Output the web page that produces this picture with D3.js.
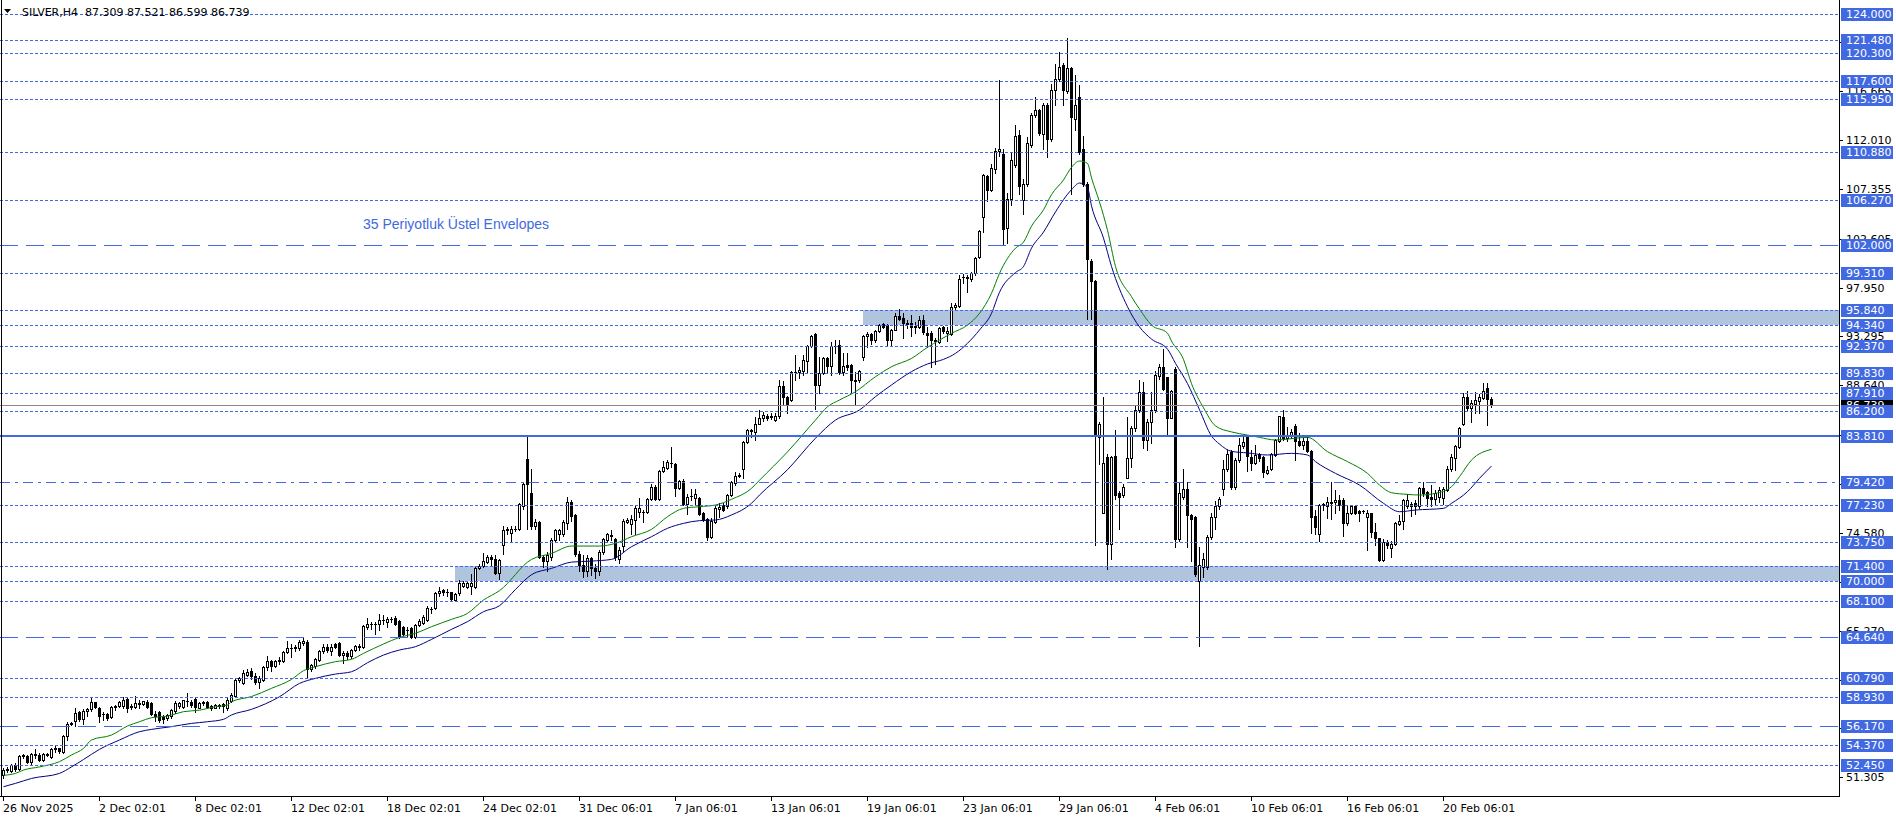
<!DOCTYPE html>
<html><head><meta charset="utf-8">
<script src="https://cdn.jsdelivr.net/npm/d3@7/dist/d3.min.js"></script>
<style>
html,body{margin:0;padding:0;background:#fff;}
svg{display:block;}
text{font-family:"DejaVu Sans",sans-serif;}
</style></head>
<body>
<svg id="chart" width="1896" height="820"></svg>
<script>
// ---------------- DATA ----------------
const title = "SILVER,H4  87.309 87.521 86.599 86.739";
const opens = [51.5,52.0,51.9,52.5,52.1,53.3,53.3,52.8,53.5,53.4,53.0,53.5,53.2,54.0,54.05,53.7,55.2,56.4,56.7,57.5,56.9,57.6,57.8,58.45,57.9,57.3,57.3,57.05,58.0,58.1,58.1,58.75,58.0,58.0,58.4,58.3,58.45,58.4,57.3,57.5,57.05,56.95,57.1,57.65,58.1,58.0,58.6,58.5,58.8,57.95,58.35,58.5,58.1,57.95,58.2,58.3,57.9,58.6,59.05,60.55,60.3,61.05,
61.4,61.0,60.4,60.6,61.8,62.4,61.9,62.4,62.4,63.2,63.6,63.7,63.6,64.1,64.2,61.6,61.9,62.5,63.3,63.7,63.3,64.0,64.1,63.0,63.1,62.9,63.4,63.75,63.7,65.6,65.95,65.9,65.9,66.25,66.1,66.35,66.45,66.2,65.6,65.3,65.5,64.7,65.8,66.0,66.3,67.3,67.4,68.9,69.1,69.0,69.0,68.2,68.9,69.5,69.4,69.5,69.4,71.2,71.45,71.8,72.3,72.1,
70.8,73.4,74.85,74.6,74.95,75.0,77.1,81.6,78.4,75.2,75.6,72.3,71.9,72.3,73.9,74.5,74.5,75.55,77.5,76.3,72.6,71.5,71.0,72.2,71.2,71.0,72.8,73.9,74.3,74.0,72.1,73.3,75.6,75.4,75.8,76.6,76.55,76.6,77.8,79.0,77.8,80.5,80.8,81.25,81.1,78.9,79.5,77.3,78.1,77.9,77.9,76.5,75.9,74.2,75.6,76.9,77.2,77.1,78.2,79.3,80.0,80.7,83.2,84.3,84.2,85.0,
85.5,85.7,85.6,85.3,85.7,88.57,87.5,87.2,89.9,89.9,90.0,91.0,92.4,93.5,88.7,89.8,91.2,90.5,92.4,92.5,89.9,90.6,90.6,89.1,89.1,91.3,93.3,93.55,93.0,93.8,94.45,94.4,93.0,93.9,95.25,95.05,94.6,94.6,94.3,94.2,94.85,93.65,93.6,92.9,92.8,94.15,93.6,93.5,96.1,96.2,99.0,99.0,98.8,99.3,100.9,104.7,108.6,107.2,109.2,111.0,
110.7,103.6,106.4,109.6,112.45,106.3,107.85,111.5,114.4,114.85,112.6,115.3,112.1,116.8,117.85,119.1,116.7,118.9,114.0,116.1,111.1,107.85,100.5,98.6,83.7,76.5,81.8,73.5,81.9,78.4,78.2,79.85,81.7,84.6,86.3,88.0,83.4,85.15,86.3,89.5,90.35,89.4,85.5,90.15,74.0,78.0,78.8,76.3,76.1,69.96,71.3,71.3,74.2,76.1,77.1,78.8,80.7,82.3,79.0,81.5,82.85,83.7,
81.8,81.2,82.1,81.8,80.3,80.7,82.0,83.3,85.6,83.6,83.9,84.75,83.3,83.0,83.3,82.4,76.2,74.5,77.2,77.1,77.4,77.5,77.7,77.7,75.5,76.5,77.1,76.7,76.65,76.1,76.45,74.7,74.05,72.0,73.75,73.1,73.5,75.4,75.7,77.1,77.35,77.4,77.1,78.9,78.45,78.0,77.8,78.0,77.95,78.7,80.7,81.7,82.8,85.0,87.55,86.45,86.9,87.1,87.4,88.35,87.309];
const highs = [52.2,52.3,52.6,52.7,53.4,53.5,53.4,53.6,54.0,53.6,53.6,53.6,54.1,54.3,54.1,55.3,56.6,56.6,57.9,57.6,57.8,57.9,58.9,58.5,58.0,57.55,57.4,58.1,58.2,58.6,59.0,59.0,58.3,59.05,58.7,58.6,58.7,58.5,57.6,57.65,57.2,57.3,57.8,58.6,58.5,58.7,59.3,58.7,59.0,58.5,58.6,58.6,58.2,58.25,58.3,58.35,58.9,59.3,60.7,60.9,61.5,61.6,
61.7,61.2,61.0,61.9,62.9,62.5,62.5,62.8,63.3,64.3,64.0,63.9,64.4,64.7,64.4,62.1,62.7,63.4,64.0,64.0,64.0,64.1,64.2,63.3,63.3,63.5,63.9,64.0,65.8,66.5,66.1,66.1,66.9,66.8,66.6,66.6,66.7,66.3,65.7,65.6,65.6,65.9,66.4,66.75,67.6,67.55,69.0,69.45,69.2,69.2,69.0,68.9,70.1,70.0,69.9,70.7,71.3,71.6,72.7,72.5,72.45,72.5,
72.1,75.2,75.1,75.2,75.2,77.4,79.4,83.85,80.7,75.9,75.7,72.5,72.8,74.1,75.0,75.0,75.8,78.0,77.7,76.4,72.9,72.5,72.5,72.3,71.6,73.0,74.1,74.6,74.9,74.1,73.2,75.9,76.0,76.3,77.1,77.9,76.8,77.9,79.2,79.1,80.6,81.4,81.5,82.8,81.2,79.6,79.7,78.3,78.8,78.8,78.0,76.6,76.0,76.0,77.1,77.4,77.4,78.3,79.5,80.4,80.3,83.3,84.5,84.5,85.6,86.3,
86.1,85.9,86.0,86.0,89.15,89.05,87.6,90.0,91.5,90.4,91.5,92.5,93.4,93.6,91.3,91.3,91.3,92.8,92.95,93.0,91.7,91.7,90.7,89.9,90.1,93.4,93.75,93.65,93.9,94.5,94.6,94.5,94.0,95.55,95.9,95.5,94.85,95.3,94.7,95.25,95.3,94.2,93.8,93.1,94.2,94.3,94.2,96.5,96.5,99.1,99.2,99.1,99.4,100.9,103.4,108.8,108.7,109.7,111.2,117.7,
111.1,107.0,110.9,113.4,113.0,108.25,112.3,114.6,116.1,115.0,115.55,115.55,117.3,119.2,120.35,119.3,121.7,119.0,118.2,117.2,112.35,108.0,100.7,98.7,85.1,87.5,82.1,81.9,84.4,78.6,79.2,85.6,84.8,86.7,89.1,89.0,85.4,88.0,89.96,90.7,92.1,89.4,88.2,90.35,79.4,80.7,79.4,76.4,76.2,73.2,72.65,74.4,76.5,77.65,78.0,81.5,82.5,82.5,81.7,83.6,83.7,83.8,
82.5,82.95,82.2,81.9,81.0,82.2,83.5,85.7,86.3,84.7,84.5,85.0,84.1,83.6,83.7,82.5,76.8,77.3,77.4,78.0,79.4,78.65,78.2,77.9,77.1,77.2,77.2,76.8,76.8,76.8,76.5,75.5,74.1,74.0,73.95,73.8,75.6,76.3,77.8,78.3,77.5,77.7,79.0,79.4,78.6,79.1,78.7,79.0,79.0,81.0,82.1,83.0,84.7,87.95,88.05,87.2,87.97,87.8,88.9,88.9,87.521];
const lows = [51.2,51.8,51.8,51.9,52.0,53.1,52.7,52.6,53.1,52.9,52.9,53.3,53.1,53.7,53.6,53.6,54.9,56.3,56.2,56.7,56.4,57.1,57.6,57.9,56.6,56.8,56.75,57.0,57.7,58.0,57.9,57.55,57.8,57.9,57.9,58.2,57.9,57.2,56.7,56.6,56.5,56.8,57.0,57.45,57.9,57.9,58.05,58.0,57.55,57.9,58.2,57.9,57.7,57.9,57.9,57.55,57.7,58.5,59.0,60.4,60.2,60.95,
60.7,60.2,59.8,60.5,61.5,61.45,61.8,62.1,62.3,63.1,62.8,63.3,63.4,63.9,60.8,61.4,61.7,62.4,63.1,63.2,62.95,63.6,62.9,62.2,62.6,62.7,63.3,63.4,63.6,65.4,65.4,65.0,65.3,65.9,65.6,66.1,65.8,64.6,64.9,64.8,64.6,64.6,65.7,65.9,66.2,67.0,67.3,68.6,68.7,68.6,68.2,68.1,68.7,69.4,69.3,68.8,69.3,71.1,71.3,71.7,71.4,70.7,
70.2,72.6,74.5,73.7,74.8,74.9,76.9,75.0,75.0,75.0,72.2,71.3,71.0,72.0,73.7,73.9,74.3,75.0,75.7,72.4,71.0,70.4,70.5,70.6,70.3,70.6,72.6,73.8,73.9,72.0,71.7,72.9,75.5,74.5,74.5,76.1,75.6,76.5,77.7,77.7,77.7,80.4,80.7,80.9,78.1,78.8,77.2,76.35,77.7,77.3,76.3,75.7,73.9,74.1,75.5,76.1,76.7,77.0,78.1,79.1,79.9,79.8,83.1,83.7,83.4,85.0,
85.2,85.3,85.4,85.2,85.5,86.75,85.97,87.1,89.1,89.3,89.6,89.8,92.3,86.4,87.9,89.7,89.9,89.6,91.7,89.7,89.6,90.1,87.9,86.75,89.0,91.05,92.3,92.6,92.8,93.7,94.1,92.4,92.5,93.9,94.9,93.1,94.05,93.3,93.6,94.1,93.5,92.3,90.4,90.7,92.7,93.6,92.9,93.4,95.9,96.1,98.4,97.5,98.6,99.1,100.8,103.2,106.2,107.1,108.9,110.5,
102.1,102.2,105.8,109.4,106.9,105.0,107.65,111.3,114.2,112.5,111.1,110.4,111.9,115.35,117.6,115.35,116.5,106.9,113.0,110.7,107.65,95.0,95.0,73.4,81.1,76.5,71.1,72.1,77.85,75.0,78.0,79.8,80.9,84.3,86.1,82.65,82.5,83.1,86.1,89.2,88.2,83.8,85.5,73.2,73.8,77.85,73.2,71.9,70.5,63.8,70.35,71.1,74.0,75.0,76.9,78.2,80.5,78.8,78.8,81.3,82.65,80.5,
80.6,81.1,81.4,79.9,80.2,80.6,81.9,83.2,83.4,83.3,83.6,81.5,82.85,82.6,82.3,74.6,74.5,73.8,76.8,76.0,75.9,76.5,76.8,74.3,75.3,76.4,76.4,75.7,76.45,72.95,74.2,73.4,71.9,71.9,73.1,72.3,73.4,75.3,75.0,77.0,76.2,76.4,77.0,78.1,77.1,77.1,77.3,77.5,77.3,78.6,80.5,80.6,82.7,84.9,86.3,85.1,85.97,86.0,87.3,84.9,86.599];
const closes = [52.0,52.1,52.5,52.1,53.3,53.4,52.8,53.5,53.4,53.0,53.5,53.45,54.0,54.05,53.85,55.2,56.4,56.45,57.4,56.9,57.6,57.85,58.45,58.0,57.1,57.35,57.0,58.0,58.1,58.5,58.7,57.95,58.1,58.35,58.3,58.55,58.0,57.3,57.1,56.8,56.9,57.2,57.7,58.4,58.35,58.65,58.55,58.2,58.0,58.4,58.5,58.0,57.95,58.15,58.1,58.05,58.7,59.1,60.6,60.8,61.2,61.35,
61.0,60.4,60.8,61.8,62.4,61.9,62.4,62.45,63.2,63.65,63.65,63.6,64.2,64.3,61.6,62.0,62.6,63.3,63.7,63.4,63.7,63.75,62.95,63.1,62.9,63.4,63.8,63.8,65.7,65.9,65.9,65.95,66.3,66.3,66.35,66.4,65.95,64.7,65.0,65.3,64.7,65.8,66.2,66.6,67.4,67.35,68.9,69.05,69.0,68.95,68.25,68.8,69.8,69.85,69.8,69.8,71.2,71.45,71.9,72.3,72.1,70.8,
72.0,74.9,74.95,74.95,75.0,77.3,79.2,79.2,75.25,75.6,72.3,71.9,72.5,73.9,74.9,74.9,75.65,77.5,76.2,72.6,71.5,71.0,72.2,71.2,71.0,72.8,74.0,74.5,74.4,72.3,73.0,75.75,75.8,75.9,77.0,77.0,76.6,77.8,78.98,77.8,80.5,80.9,81.3,81.2,78.9,79.5,77.3,78.0,78.1,78.3,76.4,75.8,74.2,75.7,77.0,77.05,76.8,78.2,79.4,80.0,80.1,83.2,84.4,84.35,85.0,85.5,
85.8,85.5,85.7,85.7,88.57,87.5,86.75,89.9,89.95,90.1,91.05,92.4,93.3,88.7,89.8,91.2,90.5,92.4,92.35,89.9,90.5,90.4,89.1,89.05,90.0,93.3,93.55,93.0,93.8,94.4,94.2,93.0,93.9,95.2,95.0,94.55,94.5,94.2,94.15,94.85,93.75,93.4,92.95,93.0,94.05,93.8,93.8,96.1,96.3,98.8,99.0,98.85,99.3,100.8,103.3,108.7,107.2,109.3,111.0,111.1,
103.5,106.4,110.1,112.35,107.65,107.85,111.7,114.4,114.85,112.65,115.35,112.1,116.8,117.85,119.0,116.8,118.9,114.2,115.35,110.9,107.85,100.7,98.6,83.8,85.0,81.2,73.5,81.8,78.2,78.0,79.0,81.7,84.6,86.3,88.0,83.4,85.15,86.3,89.6,90.35,88.25,85.5,88.05,74.0,78.4,78.8,76.3,75.9,70.7,71.5,72.1,74.2,76.1,77.1,77.85,80.7,82.1,79.0,81.5,83.0,83.2,81.9,
81.2,82.0,81.7,80.4,80.55,82.1,83.4,85.7,83.6,83.9,84.2,83.3,82.95,83.3,82.4,76.1,75.1,77.2,77.3,77.5,77.55,77.7,77.25,75.5,76.5,77.1,76.5,76.5,76.7,76.5,74.7,74.05,72.0,73.75,73.4,73.5,75.5,75.75,77.7,77.7,77.1,77.1,78.9,78.35,77.9,77.8,78.4,78.7,78.8,80.7,81.8,82.9,84.6,87.55,86.45,86.98,87.2,87.5,88.1,87.3,86.739];

// envelope (35-period exponential) samples: bar index / price
const upperBars = [0,3,5,9,14,17,20,22,27,31,34,37,41,45,49,53,56,57,62,67,72,75,78,83,87,90,95,99,103,107,112,116,120,124,132,137,142,149,153,157,162,166,170,174,178,182,187,189,196,203,206,209,213,218,222,227,231,234,237,241,244,247,249,253,255,257,260,262,265,267,269,271,272,274,276,278,282,284,287,291,292,295,297,300,303,307,311,314,318,326,331,336,341,344,347,351,354,358,362,364,367,372];
const upperVals = [51.5,51.68,52.0,52.3,52.8,53.43,54.06,54.86,55.33,56.19,56.6,56.98,57.14,57.56,57.7,58.03,58.19,58.5,59.0,59.78,60.63,61.46,61.84,62.32,62.54,63.11,64.0,64.63,65.02,65.65,66.35,66.92,68.19,69.08,72.06,72.63,73.33,73.33,73.59,74.22,74.92,76.13,76.92,77.08,77.24,77.78,78.83,79.6,82.3,85.33,86.6,87.24,88.03,89.46,90.41,91.2,92.26,92.95,93.59,94.38,95.49,97.4,99.3,101.7,102.27,103.8,105.35,106.8,108.2,109.4,110.0,109.77,108.4,106.1,103.4,99.96,97.08,95.9,94.38,93.6,92.85,91.1,88.8,86.5,84.77,84.2,83.9,83.68,83.43,83.68,82.32,81.37,80.25,79.14,78.41,78.25,78.19,78.35,78.98,79.94,81.52,82.54];
const lowerBars = [0,3,7,14,17,20,24,29,34,37,42,47,51,55,57,62,69,74,78,83,87,91,95,99,103,107,112,116,120,124,128,132,137,142,147,152,157,162,166,170,174,178,182,187,189,196,203,208,214,218,222,227,231,235,238,241,244,247,249,253,255,257,260,263,267,269,271,272,275,277,281,284,287,291,293,296,299,302,304,307,311,316,322,326,328,333,339,345,349,353,360,362,366,369,372];
const lowerVals = [50.41,50.73,51.2,51.68,52.3,53.0,53.97,54.86,55.65,55.87,56.13,56.44,56.6,56.83,57.24,57.78,58.98,60.25,60.73,61.14,61.36,62.22,62.95,63.43,63.75,64.44,65.4,66.13,67.08,67.65,69.2,70.6,71.2,71.8,71.9,72.06,73.27,74.22,75.02,75.49,75.75,75.81,76.29,77.4,78.19,80.6,83.6,85.33,86.29,87.56,88.67,89.94,90.67,91.11,91.68,92.64,93.91,95.49,97.5,99.38,99.96,101.7,103.23,105.15,107.27,107.9,107.46,105.73,102.65,99.96,96.12,94.2,93.04,92.08,90.73,88.8,86.31,83.81,83.04,82.35,82.2,82.0,82.16,82.0,81.37,80.25,79.14,77.4,76.6,76.76,76.92,77.4,78.51,79.78,80.95];

// horizontal levels
const dottedLevels = [124.0,121.48,120.3,117.6,115.95,110.88,106.27,99.31,95.84,94.34,92.37,89.83,87.91,86.2,77.23,73.75,71.4,70.0,68.1,60.79,58.93,54.37,52.45];
const dashedLevels = [102.0,64.64,56.17];
const dashDotLevels = [79.42];
const solidLevels = [83.81];
const bandLow = [94.34,70.0];
const bandHigh = [95.84,71.4];
const bandStartBar = [215,113];
const bidPrice = 86.739;
const priceTicks = [51.305,55.960,60.615,65.270,69.925,74.580,79.235,83.890,88.640,93.295,97.950,102.605,107.355,112.010,116.665,121.320];
const dateBars = [0,24,48,72,96,120,144,168,192,216,240,264,288,312,336,360];
const dateLabels = ["26 Nov 2025","2 Dec 02:01","8 Dec 02:01","12 Dec 02:01","18 Dec 02:01","24 Dec 02:01","31 Dec 06:01","7 Jan 06:01","13 Jan 06:01","19 Jan 06:01","23 Jan 06:01","29 Jan 06:01","4 Feb 06:01","10 Feb 06:01","16 Feb 06:01","20 Feb 06:01"];
const noteText = "35 Periyotluk Üstel Envelopes";

// ---------------- DRAW ----------------
const svg = d3.select("#chart");
const plotRight = 1839, plotBottom = 796;
const x = d3.scaleLinear().domain([0, 372]).range([3, 1491]);
const y = d3.scaleLinear().domain([52.45, 124]).range([765.3, 14]);
const blue = "#4169E1";
const px = i => Math.round(x(i));
const py = v => Math.round(y(v));

svg.append("rect").attr("width",1896).attr("height",820).attr("fill","#fff");

// bands
const bands = svg.append("g");
bandLow.forEach((lo,k)=>{
  bands.append("rect")
    .attr("x", px(bandStartBar[k]) ).attr("y", py(bandHigh[k]))
    .attr("width", plotRight - px(bandStartBar[k])).attr("height", py(lo)-py(bandHigh[k]))
    .attr("fill","#B0C4DE");
});

// candles
const cg = svg.append("g").attr("shape-rendering","crispEdges");
opens.forEach((o,i)=>{
  const c = closes[i], h = highs[i], l = lows[i];
  const cx = px(i);
  const yo = py(o), yc = py(c), yh = py(h), yl = py(l);
  cg.append("line").attr("x1",cx+0.5).attr("x2",cx+0.5).attr("y1",yh).attr("y2",yl+1).attr("stroke","#000");
  const top = Math.min(yo,yc), bot = Math.max(yo,yc);
  if (bot - top < 1) {
    cg.append("line").attr("x1",cx-1).attr("x2",cx+2).attr("y1",top+0.5).attr("y2",top+0.5).attr("stroke","#000");
  } else if (c >= o) {
    cg.append("rect").attr("x",cx-0.5).attr("y",top+0.5).attr("width",2).attr("height",bot-top)
      .attr("fill","#fff").attr("stroke","#000");
  } else {
    cg.append("rect").attr("x",cx-1).attr("y",top).attr("width",3).attr("height",bot-top+1).attr("fill","#000");
  }
});

// envelopes
const line = d3.line().x(d=>x(d[0])+0.5).y(d=>y(d[1])).curve(d3.curveMonotoneX);
svg.append("path").datum(upperBars.map((b,k)=>[b,upperVals[k]]))
  .attr("d",line).attr("fill","none").attr("stroke","#008000").attr("stroke-width",1);
svg.append("path").datum(lowerBars.map((b,k)=>[b,lowerVals[k]]))
  .attr("d",line).attr("fill","none").attr("stroke","#000080").attr("stroke-width",1);

// horizontal lines
const lg = svg.append("g").attr("shape-rendering","crispEdges");
function hline(v, dash, w){
  const yy = py(v) + (w===2?0:0.5);
  lg.append("line").attr("x1",0).attr("x2",plotRight).attr("y1",yy).attr("y2",yy)
    .attr("stroke",blue).attr("stroke-width",w).attr("stroke-dasharray",dash);
}
dottedLevels.forEach(v=>hline(v,"3,2",1));
dashedLevels.forEach(v=>hline(v,"18,8",1));
dashDotLevels.forEach(v=>hline(v,"10,5,3,5",1));
solidLevels.forEach(v=>hline(v,null,2));
// bid line
lg.append("line").attr("x1",0).attr("x2",plotRight).attr("y1",py(bidPrice)+0.5).attr("y2",py(bidPrice)+0.5)
  .attr("stroke","#8a8a8a").attr("stroke-width",1);

// note text
svg.append("text").attr("x",363).attr("y",229)
  .style("font-family","'Liberation Sans',Arial,sans-serif").style("font-size","14px")
  .attr("fill",blue).text(noteText);

// frame / axes
const ag = svg.append("g").attr("shape-rendering","crispEdges");
ag.append("line").attr("x1",plotRight+0.5).attr("x2",plotRight+0.5).attr("y1",0).attr("y2",plotBottom+1).attr("stroke","#000");
ag.append("line").attr("x1",0).attr("x2",plotRight+1).attr("y1",plotBottom+0.5).attr("y2",plotBottom+0.5).attr("stroke","#000");
ag.append("line").attr("x1",1.5).attr("x2",1.5).attr("y1",0).attr("y2",plotBottom).attr("stroke","#000");

// all level values (for label placement)
const allLevels = dottedLevels.concat(dashedLevels, dashDotLevels, solidLevels).sort((a,b)=>b-a);

// price ticks (text hidden where a level label sits on top of it, as in the terminal)
priceTicks.forEach(v=>{
  const yy = py(v);
  ag.append("line").attr("x1",plotRight).attr("x2",plotRight+4).attr("y1",yy+0.5).attr("y2",yy+0.5).attr("stroke","#000");
  const covered = allLevels.some(lv => Math.abs(py(lv) - yy) < 4);
  if (!covered) {
    svg.append("text").attr("x",1846).attr("y",yy+4).style("font-size","11px").attr("fill","#000").text(v.toFixed(3));
  }
});

// bid label
svg.append("rect").attr("x",1841).attr("y",py(bidPrice)-6).attr("width",52).attr("height",13).attr("fill","#000");
svg.append("text").attr("x",1846).attr("y",py(bidPrice)+4).style("font-size","11px").attr("fill","#fff").text(bidPrice.toFixed(3));

// level labels
allLevels.forEach(v=>{
  const yy = py(v);
  svg.append("rect").attr("x",1841).attr("y",yy-6).attr("width",52).attr("height",13).attr("fill",blue);
  svg.append("text").attr("x",1846).attr("y",yy+4).style("font-size","11px").attr("fill","#fff").text(v.toFixed(3));
});

// date axis
dateBars.forEach((b,k)=>{
  const xx = px(b);
  ag.append("line").attr("x1",xx+0.5).attr("x2",xx+0.5).attr("y1",plotBottom).attr("y2",plotBottom+5).attr("stroke","#000");
  svg.append("text").attr("x",xx).attr("y",812).style("font-size","11px").attr("fill","#000").text(dateLabels[k]);
});

// title
svg.append("path").attr("d","M4,9 L11,9 L7.5,13 Z").attr("fill","#000");
svg.append("text").attr("x",22).attr("y",16).style("font-size","11px").attr("fill","#000")
  .attr("xml:space","preserve").style("white-space","pre").text(title);
</script>
</body></html>
